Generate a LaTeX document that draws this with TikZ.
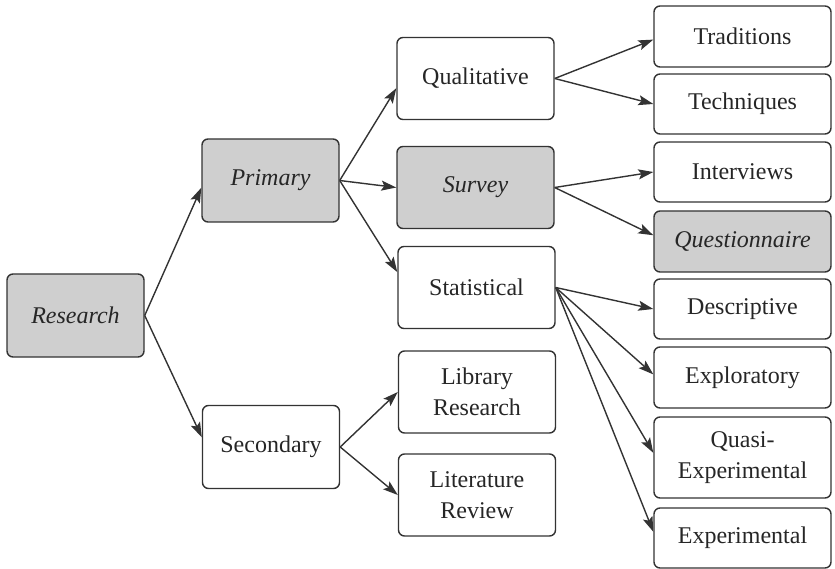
\documentclass[tikz,border=0pt]{standalone}
\usepackage{fontspec}
\setmainfont{Liberation Serif}
\usetikzlibrary{arrows.meta}

\begin{document}
\begin{tikzpicture}[
  x=1pt, y=-1pt,
  box/.style={draw=black!80, line width=1.4pt, rounded corners=6pt, align=center,
    text=black!85, inner sep=0pt, font=\fontsize{24}{31}\selectfont},
  keybox/.style={box, fill=black!19, font=\fontsize{24}{31}\selectfont\itshape},
  lvlone/.style={minimum width=137pt, minimum height=83pt},
  lvltwo/.style={minimum width=157pt, minimum height=82pt},
  lvlthree/.style={minimum width=177pt, minimum height=61pt},
  >={Stealth[length=15pt,width=10pt,inset=3pt]},
  link/.style={->, draw=black!80, line width=1.4pt}
]

\useasboundingbox (0,0) rectangle (835,569);

% first and second level
\node[keybox, lvlone] (research) at (75.5,315.5) {Research};
\node[keybox, lvlone] (primary) at (270.5,180.5) {Primary};
\node[box, lvlone] (secondary) at (271,447) {Secondary};

% third level
\node[box, lvltwo] (qual) at (475.5,78.5) {Qualitative};
\node[keybox, lvltwo] (survey) at (475.5,187.5) {Survey};
\node[box, lvltwo] (stat) at (476.5,287.5) {Statistical};
\node[box, lvltwo] (library) at (477,392) {Library\\Research};
\node[box, lvltwo] (litrev) at (477,495) {Literature\\Review};

% fourth level
\node[box, lvlthree] (trad) at (742.5,36.5) {Traditions};
\node[box, lvlthree, minimum height=60pt] (tech) at (742.5,104) {Techniques};
\node[box, lvlthree, minimum height=60pt] (interv) at (742.5,172) {Interviews};
\node[keybox, lvlthree] (quest) at (742.5,241.5) {Questionnaire};
\node[box, lvlthree, minimum height=60pt] (descr) at (742.5,309) {Descriptive};
\node[box, lvlthree] (explor) at (742.5,377.5) {Exploratory};
\node[box, lvlthree, minimum height=81pt] (quasi) at (742.5,457.5) {Quasi-\\Experimental};
\node[box, lvlthree, minimum height=60pt] (exper) at (742.5,538) {Experimental};

% connectors
\draw[link] (research.east) -- (primary.186);
\draw[link] (research.east) -- (secondary.172);

\draw[link] (primary.east) -- (qual.187);
\draw[link] (primary.east) -- (survey.west);
\draw[link] (primary.east) -- (stat.169);

\draw[link] (secondary.east) -- (library.west);
\draw[link] (secondary.east) -- (litrev.west);

\draw[link] (qual.east) -- (trad.182);
\draw[link] (qual.east) -- (tech.west);

\draw[link] (survey.east) -- (interv.west);
\draw[link] (survey.east) -- (quest.176);

\foreach \target/\ang in {descr/180, explor/178, quasi/177, exper/176}
  \draw[link] (stat.east) -- (\target.\ang);

\end{tikzpicture}
\end{document}
